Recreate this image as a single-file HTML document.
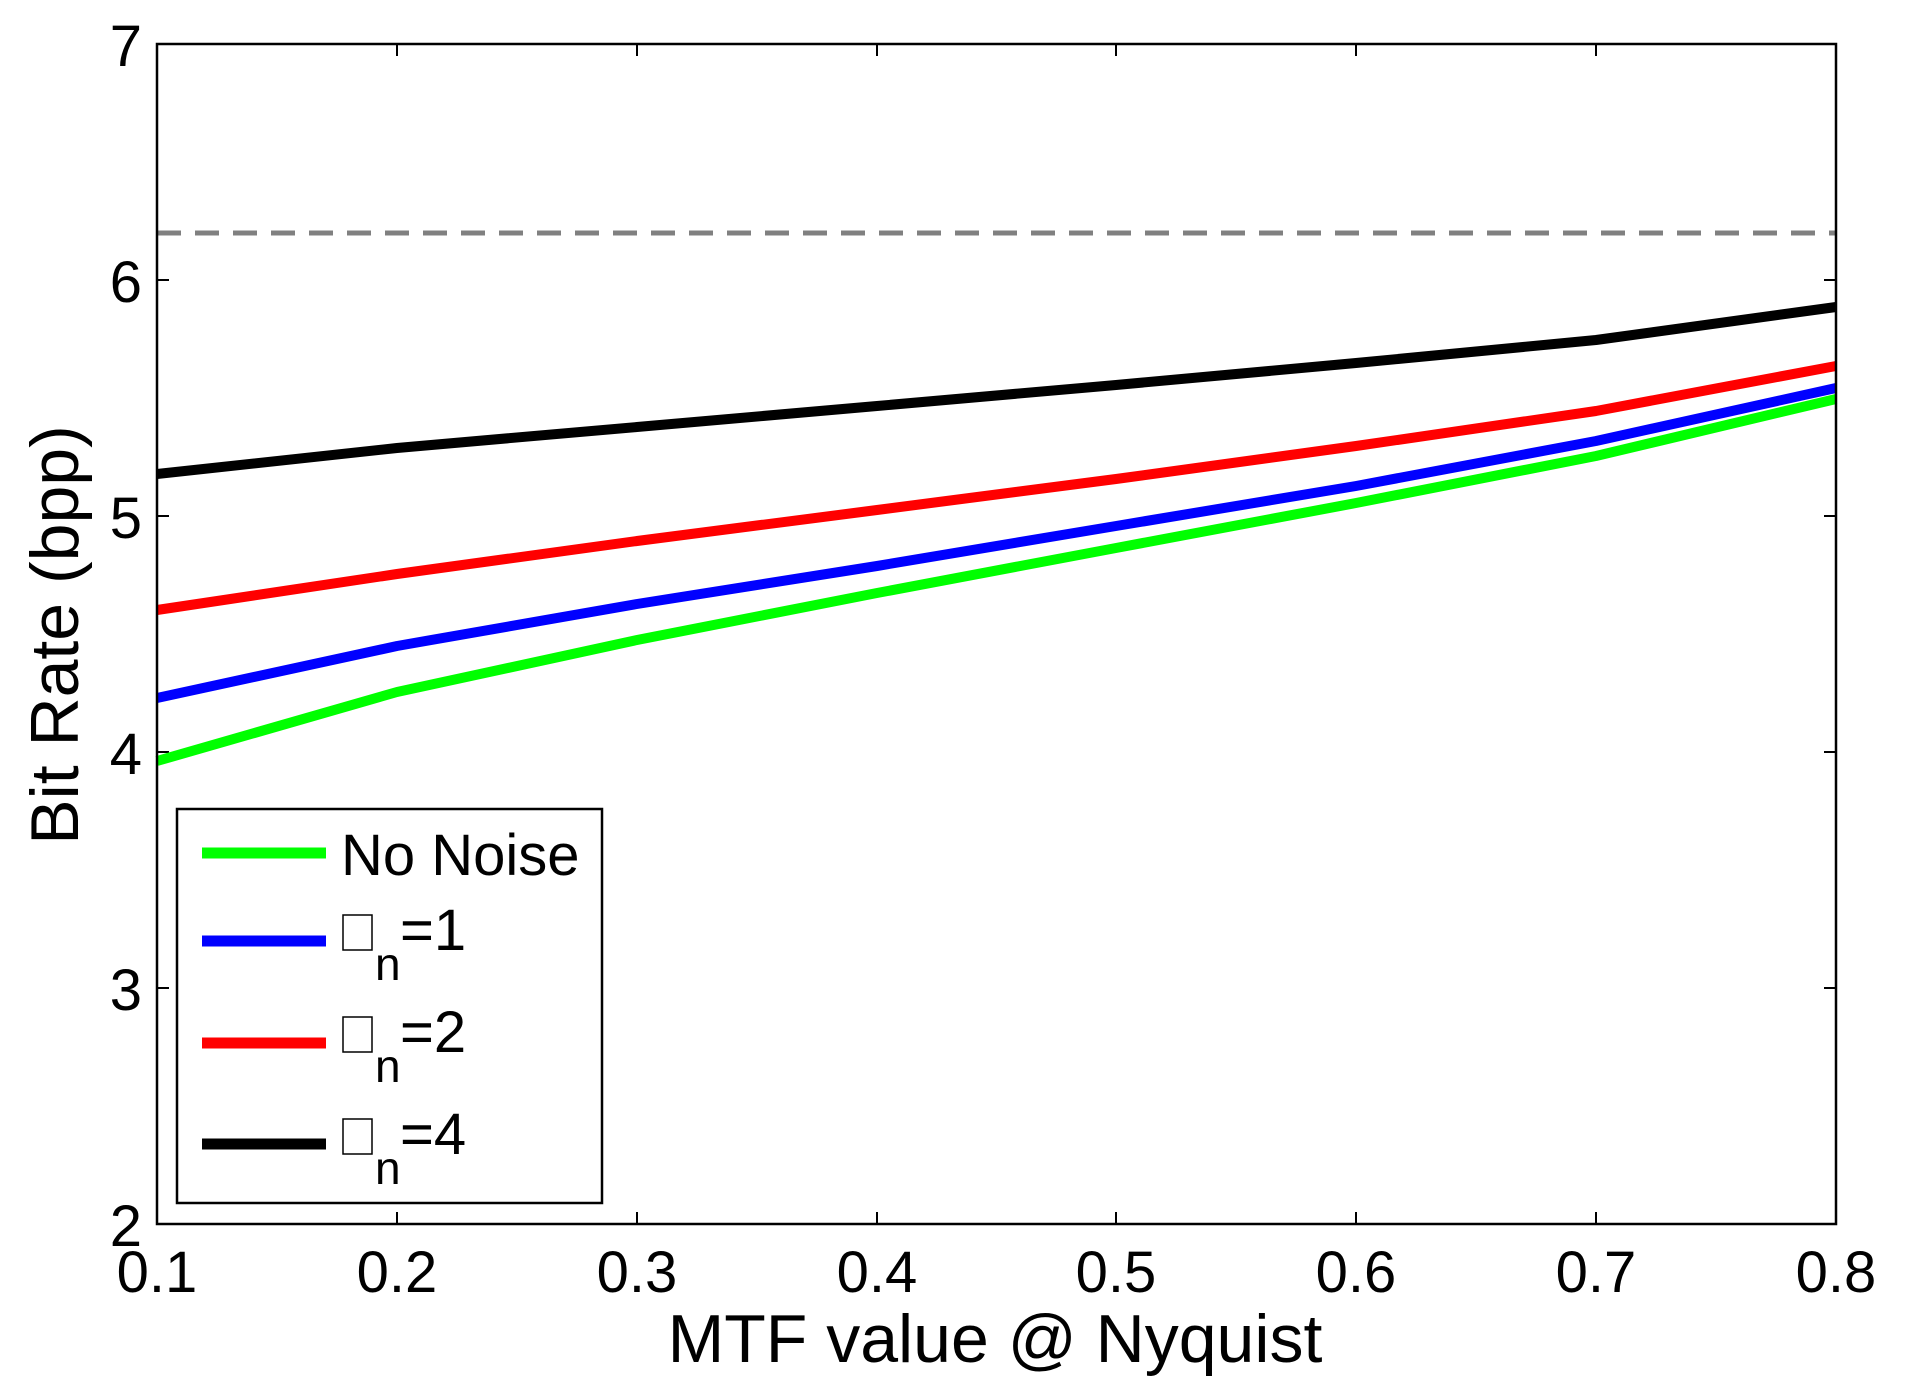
<!DOCTYPE html>
<html><head><meta charset="utf-8"><style>html,body{margin:0;padding:0;background:#fff}</style></head><body>
<svg width="1911" height="1392" xmlns="http://www.w3.org/2000/svg" font-family="Liberation Sans, sans-serif">
<rect width="1911" height="1392" fill="#fff"/>
<g stroke="#000" stroke-width="2">
<line x1="397" y1="1224" x2="397" y2="1212"/><line x1="397" y1="44" x2="397" y2="56"/>
<line x1="637" y1="1224" x2="637" y2="1212"/><line x1="637" y1="44" x2="637" y2="56"/>
<line x1="877" y1="1224" x2="877" y2="1212"/><line x1="877" y1="44" x2="877" y2="56"/>
<line x1="1116" y1="1224" x2="1116" y2="1212"/><line x1="1116" y1="44" x2="1116" y2="56"/>
<line x1="1356" y1="1224" x2="1356" y2="1212"/><line x1="1356" y1="44" x2="1356" y2="56"/>
<line x1="1596" y1="1224" x2="1596" y2="1212"/><line x1="1596" y1="44" x2="1596" y2="56"/>
<line x1="157" y1="988" x2="169" y2="988"/><line x1="1836" y1="988" x2="1824" y2="988"/>
<line x1="157" y1="752" x2="169" y2="752"/><line x1="1836" y1="752" x2="1824" y2="752"/>
<line x1="157" y1="516" x2="169" y2="516"/><line x1="1836" y1="516" x2="1824" y2="516"/>
<line x1="157" y1="280" x2="169" y2="280"/><line x1="1836" y1="280" x2="1824" y2="280"/>
</g>
<line x1="157" y1="233" x2="1836" y2="233" stroke="#808080" stroke-width="5" stroke-dasharray="24,14"/>
<g fill="none" stroke-width="10" stroke-linejoin="round">
<polyline stroke="#00ff00" points="157,761 397,692 637,640 877,593 1116,548 1356,503 1596,456 1836,399"/>
<polyline stroke="#0000ff" points="157,698 397,646 637,604 877,566 1116,526 1356,486 1596,441 1836,388"/>
<polyline stroke="#ff0000" points="157,610 397,574 637,541 877,510 1116,479 1356,446 1596,411 1836,366"/>
<polyline stroke="#000" points="157,474 397,448 637,427 877,406 1116,385 1356,363 1596,340 1836,307"/>
</g>
<rect x="157" y="44" width="1679" height="1180" fill="none" stroke="#000" stroke-width="2.5"/>
<g font-size="58" fill="#000">
<text x="157" y="1292" text-anchor="middle">0.1</text>
<text x="397" y="1292" text-anchor="middle">0.2</text>
<text x="637" y="1292" text-anchor="middle">0.3</text>
<text x="877" y="1292" text-anchor="middle">0.4</text>
<text x="1116" y="1292" text-anchor="middle">0.5</text>
<text x="1356" y="1292" text-anchor="middle">0.6</text>
<text x="1596" y="1292" text-anchor="middle">0.7</text>
<text x="1836" y="1292" text-anchor="middle">0.8</text>
<text x="142" y="1246" text-anchor="end">2</text>
<text x="142" y="1010" text-anchor="end">3</text>
<text x="142" y="774" text-anchor="end">4</text>
<text x="142" y="538" text-anchor="end">5</text>
<text x="142" y="302" text-anchor="end">6</text>
<text x="142" y="66" text-anchor="end">7</text>
<text x="995" y="1362" text-anchor="middle" font-size="68">MTF value @ Nyquist</text>
<text transform="translate(78,635) rotate(-90)" text-anchor="middle" font-size="68">Bit Rate (bpp)</text>
</g>
<rect x="177" y="809" width="425" height="394" fill="#fff" stroke="#000" stroke-width="2.5"/>
<g stroke-width="11">
<line x1="202" y1="853" x2="326" y2="853" stroke="#00ff00"/>
<line x1="202" y1="941" x2="326" y2="941" stroke="#0000ff"/>
<line x1="202" y1="1043" x2="326" y2="1043" stroke="#ff0000"/>
<line x1="202" y1="1144" x2="326" y2="1144" stroke="#000"/>
</g>
<g fill="#000" font-size="58">
<text x="341" y="875">No Noise</text>
<rect x="343" y="915" width="29" height="35" fill="none" stroke="#000" stroke-width="1.5"/>
<text x="375" y="980" font-size="46">n</text><text x="400" y="950">=1</text>
<rect x="343" y="1017" width="29" height="35" fill="none" stroke="#000" stroke-width="1.5"/>
<text x="375" y="1082" font-size="46">n</text><text x="400" y="1052">=2</text>
<rect x="343" y="1119" width="29" height="35" fill="none" stroke="#000" stroke-width="1.5"/>
<text x="375" y="1184" font-size="46">n</text><text x="400" y="1154">=4</text>
</g>
</svg>
</body></html>
